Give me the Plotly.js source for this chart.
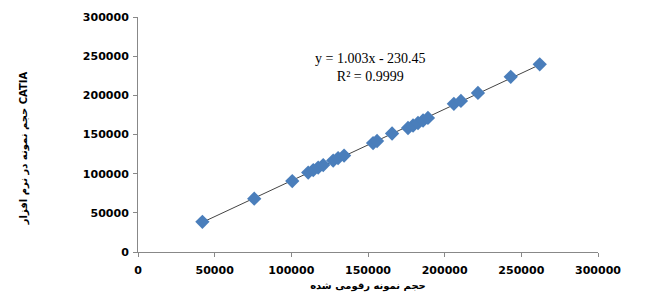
<!DOCTYPE html>
<html>
<head>
<meta charset="utf-8">
<script src="https://cdn.plot.ly/plotly-3.0.1.min.js"></script>
<style>html,body{margin:0;padding:0;background:#fff;}#chart{width:666px;height:296px;}</style>
</head>
<body>
<div id="chart"></div>
<script>
// Digitized sample volume (x) vs CATIA volume (y)
const xValues = [42000, 75800, 100600, 111000, 114300, 117500, 120800, 127300, 130500, 134400,
                 153300, 155900, 165700, 176100, 179400, 182600, 185900, 189100, 206000, 210600,
                 221700, 243100, 262000];
const yValues = [38500, 68100, 90500, 101400, 104600, 107800, 111000, 116700, 119900, 123100,
                 139100, 141700, 151300, 158300, 161500, 164700, 167900, 171100, 189100, 192900,
                 203100, 223600, 239600];
const tickVals = [0, 50000, 100000, 150000, 200000, 250000, 300000];
const tickText = ['0', '50000', '100000', '150000', '200000', '250000', '300000'];
const equationText = 'y = 1.003x - 230.45';
const r2Text = 'R² = 0.9999';
const xTitle = 'حجم نمونه رقومی شده';
const yTitle = 'حجم نمونه در نرم افزار CATIA';

// least squares trendline through the data
const n = xValues.length;
const mx = xValues.reduce((a, b) => a + b, 0) / n;
const my = yValues.reduce((a, b) => a + b, 0) / n;
let sxy = 0, sxx = 0;
for (let i = 0; i < n; i++) { sxy += (xValues[i] - mx) * (yValues[i] - my); sxx += (xValues[i] - mx) ** 2; }
const slope = sxy / sxx, intercept = my - slope * mx;
const xMin = Math.min(...xValues), xMax = Math.max(...xValues);
const trendX = [xMin, xMax];
const trendY = trendX.map(v => slope * v + intercept);

const tickFont = {family: 'DejaVu Sans', size: 11, color: '#000', weight: 'bold'};

const data = [
  {x: trendX, y: trendY, mode: 'lines', type: 'scatter', line: {color: '#444', width: 1}, hoverinfo: 'skip', showlegend: false},
  {x: xValues, y: yValues, mode: 'markers', type: 'scatter',
   marker: {symbol: 'diamond', size: 11, color: '#4a7ebb'}, showlegend: false}
];

const layout = {
  width: 666, height: 296,
  margin: {l: 138, r: 68, t: 17, b: 44},
  paper_bgcolor: '#fff', plot_bgcolor: '#fff',
  showlegend: false,
  xaxis: {
    range: [0, 300000], tickvals: tickVals, ticktext: tickText,
    showgrid: false, zeroline: false, showline: true, linecolor: '#888', linewidth: 1,
    ticks: 'outside', ticklen: 4, tickcolor: '#888', tickfont: tickFont, ticklabelstandoff: 4,
    title: {text: xTitle, font: {family: 'DejaVu Sans', size: 10, color: '#000', weight: 'bold'}, standoff: 5}
  },
  yaxis: {
    range: [0, 300000], tickvals: tickVals, ticktext: tickText,
    showgrid: false, zeroline: false, showline: true, linecolor: '#888', linewidth: 1,
    ticks: 'outside', ticklen: 4, tickcolor: '#888', tickfont: tickFont, ticklabelstandoff: 2
  },
  annotations: [
    {xref: 'paper', yref: 'paper', x: (370 - 138) / 460, y: (251.7 - 67) / 234.7,
     text: equationText + '<br>' + r2Text, showarrow: false, align: 'center',
     font: {family: 'Liberation Serif', size: 14, color: '#000'}, xanchor: 'center', yanchor: 'middle'},
    {xref: 'paper', yref: 'paper', x: (24 - 138) / 460, y: (251.7 - 148) / 234.7,
     text: yTitle, showarrow: false, textangle: -90, xanchor: 'center', yanchor: 'middle',
     font: {family: 'DejaVu Sans', size: 10, color: '#000', weight: 'bold'}}
  ]
};

Plotly.newPlot('chart', data, layout, {displayModeBar: false, staticPlot: true});
</script>
</body>
</html>
